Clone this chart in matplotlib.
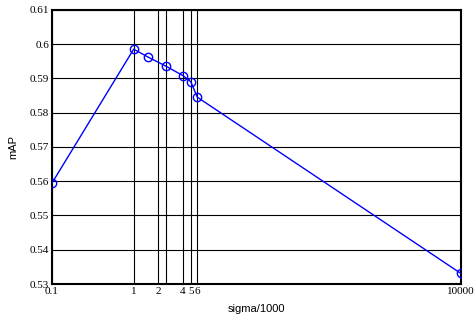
import matplotlib
matplotlib.use("Agg")
import matplotlib.pyplot as plt

sigma = [0.1, 1, 1.5, 2.5, 4, 5, 6, 10000]
mAP = [0.5594, 0.5985, 0.5962, 0.5935, 0.5908, 0.5890, 0.5845, 0.5331]
xticks = [0.1, 1, 2, 2.5, 4, 5, 6, 10000]
xticklabels = ['0.1', '1', '2', '', '4', '5', '6', '10000']
yticks = [0.53, 0.54, 0.55, 0.56, 0.57, 0.58, 0.59, 0.6, 0.61]

fig = plt.figure(figsize=(4.76, 3.2), dpi=100)
ax = fig.add_axes([0.109, 0.1125, 0.859, 0.857])

ax.plot(sigma, mAP, color='blue', linewidth=1, marker='o', markersize=6,
        markerfacecolor='none', markeredgecolor='blue', zorder=3)

ax.set_xscale('log')
ax.set_xlim(0.1, 10000)
ax.set_ylim(0.53, 0.61)
ax.set_xticks(xticks)
ax.set_xticklabels(xticklabels, family='Liberation Serif', fontsize=8)
ax.minorticks_off()
ax.set_yticks(yticks)
ax.set_yticklabels(['0.53', '0.54', '0.55', '0.56', '0.57', '0.58', '0.59', '0.6', '0.61'],
                   family='Liberation Serif', fontsize=8)
ax.tick_params(length=0, pad=2)
ax.grid(True, color='black', linewidth=0.8, linestyle='-')
for s in ax.spines.values():
    s.set_linewidth(1.5)

ax.set_xlabel('sigma/1000', family='Liberation Sans', fontsize=8, labelpad=6)
ax.set_ylabel('mAP', family='Liberation Sans', fontsize=8, labelpad=8)

fig.savefig('out.png', dpi=100)
